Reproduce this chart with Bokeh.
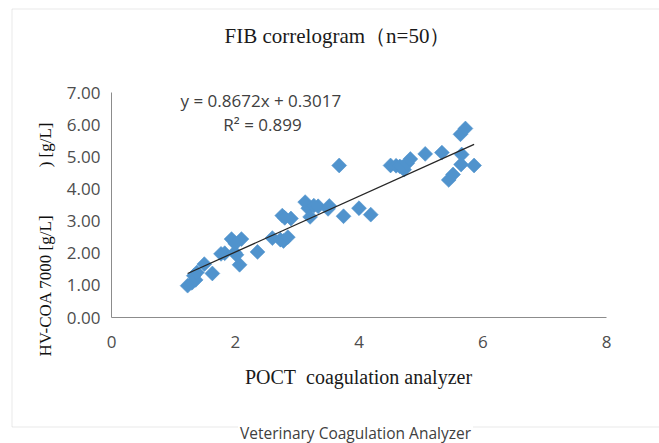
import math
from bokeh.plotting import figure
from bokeh.models import Label, BoxAnnotation, NumeralTickFormatter, FixedTicker, Range1d
from bokeh.embed import file_html
from bokeh.resources import INLINE

# ---- data ----
poct_x = [1.23, 1.30, 1.36, 1.33, 1.38, 1.50, 1.63, 1.77, 1.83, 1.94,
          1.99, 2.02, 2.07, 2.10, 2.36, 2.60, 2.73, 2.78, 2.85, 2.76,
          2.80, 2.90, 3.13, 3.18, 3.21, 3.27, 3.34, 3.52, 3.50, 3.68,
          3.75, 4.00, 4.19, 4.51, 4.60, 4.66, 4.73, 4.70, 4.78, 4.83,
          5.07, 5.34, 5.45, 5.52, 5.64, 5.72, 5.66, 5.65, 5.86, 2.00]
hvcoa_y = [0.99, 1.08, 1.17, 1.30, 1.40, 1.66, 1.37, 1.98, 2.00, 2.44,
           2.02, 1.95, 1.64, 2.44, 2.04, 2.47, 2.42, 2.38, 2.50, 3.17,
           3.10, 3.08, 3.59, 3.40, 3.13, 3.48, 3.46, 3.47, 3.38, 4.73,
           3.15, 3.40, 3.20, 4.73, 4.72, 4.70, 4.60, 4.68, 4.80, 4.93,
           5.09, 5.13, 4.28, 4.45, 5.70, 5.88, 5.07, 4.76, 4.73, 2.30]
fit_slope = 0.8672
fit_intercept = 0.3017
r_squared = 0.899
x_ticks = [0, 2, 4, 6, 8]
y_ticks = [0, 1, 2, 3, 4, 5, 6, 7]

title_text = "FIB correlogram\uff08n=50\uff09"
x_label = "POCT\u00a0 coagulation analyzer"
y_label_main = "HV-COA 7000 [g/L]"
y_label_extra = ") [g/L]"
caption_text = "Veterinary Coagulation Analyzer"

# ---- layout helpers (picture pixel -> data) ----
W, H = 659, 443
X0_PX, X_PER = 111.0, 495.0 / 8.0
Y0_PX, Y_PER = 317.0, 225.0 / 7.0


def px_x(px):
    return (px - X0_PX) / X_PER


def px_y(py):
    return (Y0_PX - py) / Y_PER


p = figure(width=W, height=H, output_backend="svg", toolbar_location=None,
           title=None,
           x_range=Range1d(px_x(0), px_x(W)),
           y_range=Range1d(px_y(H), px_y(0)),
           min_border_left=0, min_border_right=0, min_border_top=0, min_border_bottom=0)
p.outline_line_color = None
p.background_fill_color = "white"
p.border_fill_color = "white"
p.grid.visible = False

# outer chart box (right side runs off the page)
box = BoxAnnotation(left=px_x(11.5), right=px_x(720), top=px_y(8.5), bottom=px_y(426.5),
                    fill_color=None, line_color="#b4b4b4", line_width=1)
p.add_layout(box)

tick_font = "Open Sans"
for ax in (p.xaxis[0], p.yaxis[0]):
    ax.fixed_location = 0
    ax.axis_line_color = "#8c8c8c"
    ax.axis_line_width = 1
    ax.major_tick_out = 0
    ax.major_tick_in = 0
    ax.minor_tick_out = 0
    ax.minor_tick_in = 0
    ax.major_label_text_font = tick_font
    ax.major_label_text_font_size = "17px"
    ax.major_label_text_color = "#4d4d4d"

p.xaxis[0].ticker = FixedTicker(ticks=x_ticks)
p.xaxis[0].bounds = (min(x_ticks), max(x_ticks))
p.xaxis[0].major_label_standoff = 18
p.yaxis[0].ticker = FixedTicker(ticks=y_ticks)
p.yaxis[0].bounds = (min(y_ticks), max(y_ticks))
p.yaxis[0].formatter = NumeralTickFormatter(format="0.00")
p.yaxis[0].major_label_standoff = 11

# scatter
p.scatter(poct_x, hvcoa_y, marker="square", size=10.5, angle=math.pi / 4,
          fill_color="#5093cd", line_color="#5093cd", line_width=0.6)

# linear trend line over the data range
tx = [min(poct_x), max(poct_x)]
ty = [fit_slope * v + fit_intercept for v in tx]
p.line(tx, ty, line_color="#262626", line_width=1.3)

serif = "Liberation Serif"
p.add_layout(Label(x=px_x(337), y=px_y(35), text=title_text, text_font=serif,
                   text_font_size="21px", text_color="#1a1a1a",
                   text_align="center", text_baseline="middle"))
p.add_layout(Label(x=px_x(180), y=px_y(99.5),
                   text=f"y = {fit_slope:.4f}x + {fit_intercept:.4f}",
                   text_font=tick_font, text_font_size="17px", text_color="#404040",
                   text_align="left", text_baseline="middle"))
p.add_layout(Label(x=px_x(262), y=px_y(124), text=f"R\u00b2 = {r_squared}",
                   text_font=tick_font, text_font_size="17px", text_color="#404040",
                   text_align="center", text_baseline="middle"))
p.add_layout(Label(x=px_x(358), y=px_y(376), text=x_label, text_font=serif,
                   text_font_size="20px", text_color="#1a1a1a",
                   text_align="center", text_baseline="middle"))
p.add_layout(Label(x=px_x(45), y=px_y(356), text=y_label_main, text_font=serif,
                   text_font_size="17px", text_color="#111111", angle=math.pi / 2,
                   text_align="left", text_baseline="middle"))
p.add_layout(Label(x=px_x(45), y=px_y(122), text=y_label_extra, text_font=serif,
                   text_font_size="17px", text_color="#111111", angle=math.pi / 2,
                   text_align="right", text_baseline="middle"))
p.add_layout(Label(x=px_x(355), y=px_y(432), text=caption_text, text_font=tick_font,
                   text_font_size="15.5px", text_color="#404040",
                   background_fill_color="white", padding=2,
                   text_align="center", text_baseline="middle"))

open("out.html", "w").write(file_html(p, INLINE))
